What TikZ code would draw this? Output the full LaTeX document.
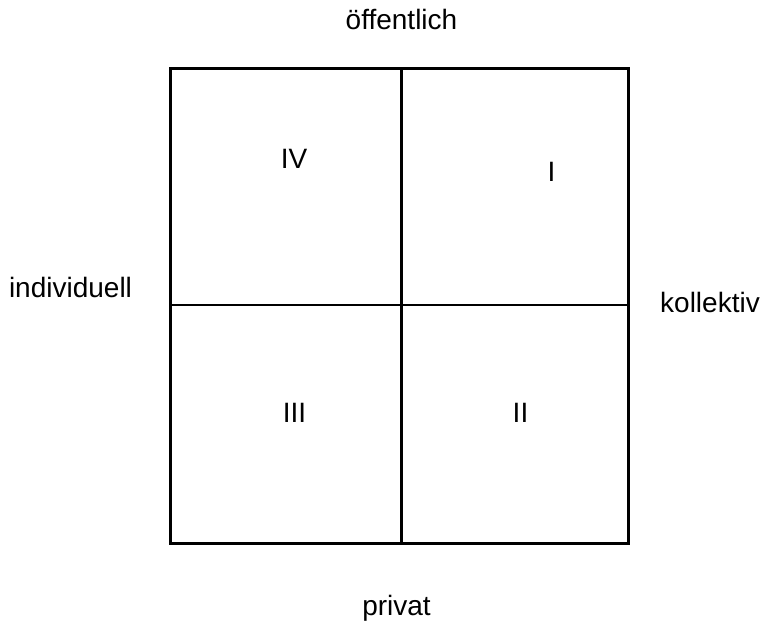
\documentclass[tikz,border=0pt]{standalone}
\usepackage{fontspec}
\setmainfont{Liberation Sans}
\begin{document}
\begin{tikzpicture}[x=1pt,y=-1pt,
  lbl/.style={anchor=base,inner sep=0pt,font=\fontsize{28}{32}\selectfont},
  outer/.style={line width=3pt},
  inner/.style={line width=2.2pt}]
\useasboundingbox (0,0) rectangle (766,625);
\draw[inner] (401.5,68) -- (401.5,543);
\draw[inner] (170,305) -- (628,305);
\draw[outer] (170,68) rectangle (628,543);
\node[lbl] (top) at (401.5,29) {öffentlich};
\node[lbl] (left) at (70.5,297) {individuell};
\node[lbl] (right) at (710,312) {kollektiv};
\node[lbl] (bottom) at (396.5,615) {privat};
\node[lbl] (q4) at (294,168) {IV};
\node[lbl] (q1) at (551.5,181) {I};
\node[lbl] (q3) at (294.5,422) {III};
\node[lbl] (q2) at (520.5,422) {II};
\end{tikzpicture}
\end{document}
